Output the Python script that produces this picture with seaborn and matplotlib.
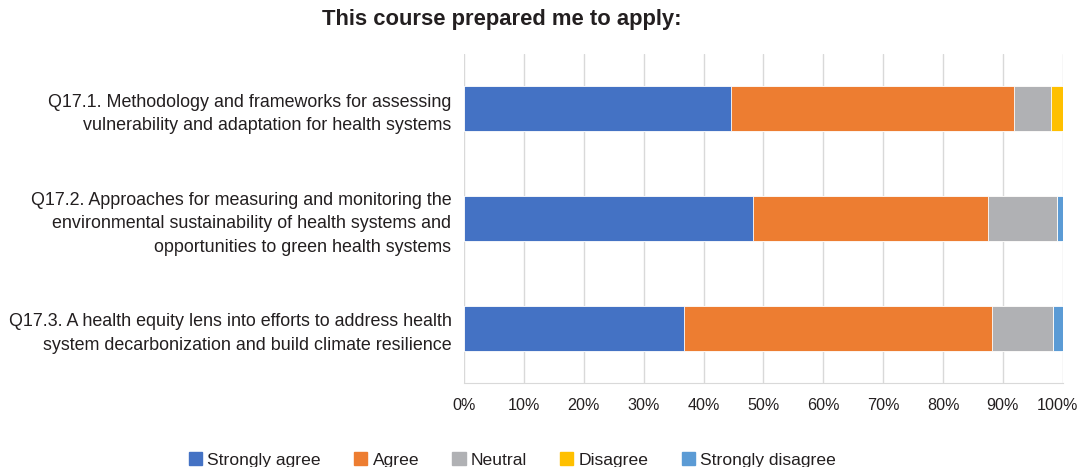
import numpy as np
import pandas as pd
import matplotlib
matplotlib.use("Agg")
import matplotlib.pyplot as plt
import matplotlib.transforms as mtransforms
import seaborn as sns

# ---------- data (percent of respondents) ----------
questions = [
    "Q17.1. Methodology and frameworks for assessing\nvulnerability and adaptation for health systems",
    "Q17.2. Approaches for measuring and monitoring the\nenvironmental sustainability of health systems and\nopportunities to green health systems",
    "Q17.3. A health equity lens into efforts to address health\nsystem decarbonization and build climate resilience",
]
categories = ["Strongly agree", "Agree", "Neutral", "Disagree", "Strongly disagree"]
strongly_agree = [44.6, 48.2, 36.8]
agree = [47.2, 39.3, 51.4]
neutral = [6.3, 11.6, 10.2]
disagree = [1.9, 0.0, 0.0]
strongly_disagree = [0.0, 0.9, 1.6]
ticks = list(range(0, 101, 10))
colors = ["#4472C4", "#ED7D31", "#B0B1B4", "#FFC000", "#5B9BD5"]

sns.set_style("white")
plt.rcParams["font.family"] = ["Liberation Sans", "DejaVu Sans"]

series = [strongly_agree, agree, neutral, disagree, strongly_disagree]
cum = np.cumsum(np.array(series), axis=0)

fig = plt.figure(figsize=(10.79, 4.67), dpi=100)
ax = fig.add_axes([0.43, 0.18, 0.555, 0.705])

# draw cumulative totals from right to left so each segment shows
for i in range(len(categories) - 1, -1, -1):
    df = pd.DataFrame({"question": questions, "value": cum[i]})
    sns.barplot(data=df, x="value", y="question", color=colors[i], ax=ax,
                width=0.41, edgecolor="white", linewidth=0.6, saturation=1,
                zorder=3)

ax.set_xlim(0, 100)
ax.set_xticks(ticks)
ax.set_xticklabels([f"{t}%" for t in ticks], fontsize=11.6)
ax.tick_params(axis="y", labelsize=12.9, length=0, pad=9, labelcolor="#231F20")
ax.tick_params(axis="x", length=0, pad=11, labelcolor="#231F20")
for lab in ax.get_yticklabels():
    lab.set_horizontalalignment("right")
    lab.set_multialignment("right")
    lab.set_linespacing(1.5)
# nudge "100%" left a little so it stays inside the figure
last = ax.get_xticklabels()[-1]
last.set_transform(last.get_transform()
                   + mtransforms.ScaledTranslation(-0.05, 0, fig.dpi_scale_trans))
ax.set_xlabel("")
ax.set_ylabel("")
ax.grid(axis="x", color="#D9D9D9", linewidth=1, zorder=0)
for side in ["top", "right", "left"]:
    ax.spines[side].set_visible(False)
ax.spines["bottom"].set_color("#D9D9D9")

fig.suptitle("This course prepared me to apply:", x=0.465, y=0.98,
             fontsize=15.8, fontweight="bold", color="#231F20")

handles = [plt.Rectangle((0, 0), 1, 1, color=c) for c in colors]
fig.legend(handles, categories, loc="lower center", ncol=5, frameon=False,
           bbox_to_anchor=(0.475, -0.035), fontsize=12.6, handlelength=0.75,
           handleheight=0.75, handletextpad=0.3, columnspacing=1.9,
           labelcolor="#231F20")

fig.savefig("out.png", dpi=100)
